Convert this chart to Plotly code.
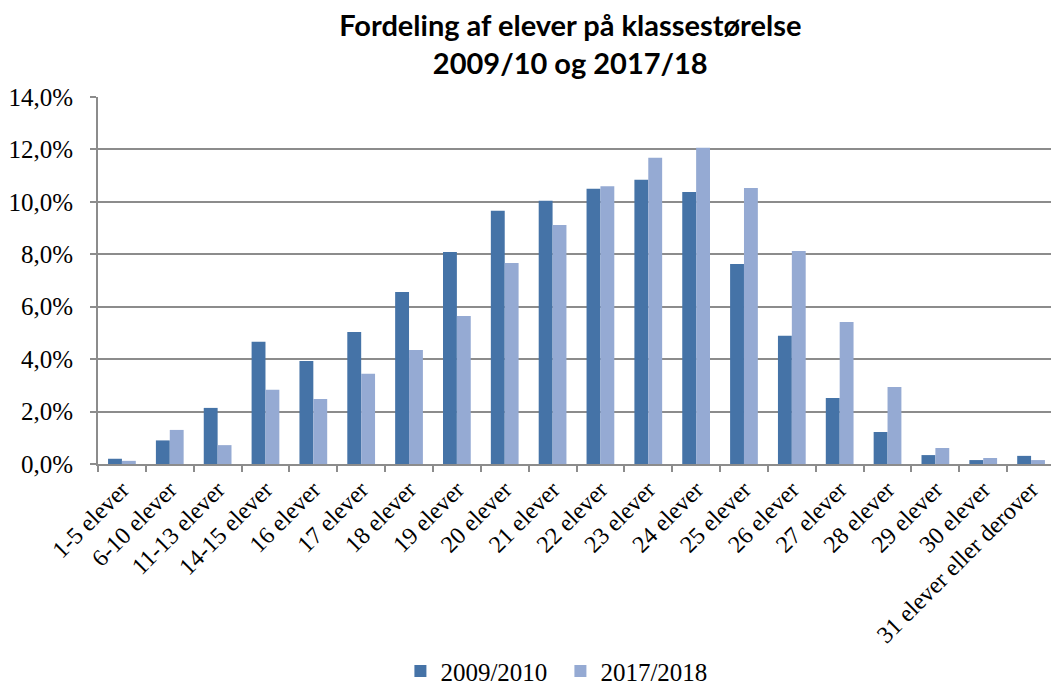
import plotly.graph_objects as go

categories = ["1-5 elever", "6-10 elever", "11-13 elever", "14-15 elever", "16 elever",
              "17 elever", "18 elever", "19 elever", "20 elever", "21 elever", "22 elever",
              "23 elever", "24 elever", "25 elever", "26 elever", "27 elever", "28 elever",
              "29 elever", "30 elever", "31 elever eller derover"]
v2009 = [0.20, 0.90, 2.14, 4.66, 3.93, 5.04, 6.56, 8.09, 9.66, 10.04, 10.50,
         10.84, 10.38, 7.63, 4.89, 2.52, 1.22, 0.34, 0.15, 0.31]
v2017 = [0.12, 1.30, 0.72, 2.83, 2.48, 3.44, 4.35, 5.65, 7.67, 9.12, 10.60,
         11.68, 12.06, 10.53, 8.13, 5.42, 2.94, 0.61, 0.23, 0.15]
series_names = ["2009/2010", "2017/2018"]
y_ticks = [0, 0.02, 0.04, 0.06, 0.08, 0.10, 0.12, 0.14]

serif = "Liberation Serif, Times New Roman, serif"

fig = go.Figure()
fig.add_trace(go.Bar(x=categories, y=[v / 100 for v in v2009], name=series_names[0],
                     marker=dict(color="#4573A7", line=dict(width=0))))
fig.add_trace(go.Bar(x=categories, y=[v / 100 for v in v2017], name=series_names[1],
                     marker=dict(color="#95AAD3", line=dict(width=0))))

fig.update_layout(
    width=1051, height=678,
    paper_bgcolor="white", plot_bgcolor="white",
    separators=", ",
    barmode="group", bargap=0.42, bargroupgap=0,
    margin=dict(l=90, r=4, t=89, b=222, autoexpand=False),
    title=dict(text="<b>Fordeling af elever på klassestørelse<br>2009/10 og 2017/18</b>",
               x=0.535, xanchor="center", y=0.958, yanchor="top",
               font=dict(family="Lato, Carlito, Calibri, sans-serif", size=29, color="black")),
    legend=dict(orientation="h", x=0.316, xanchor="left", y=-0.565, yanchor="middle",
                font=dict(family=serif, size=25, color="black"), traceorder="normal",
                itemwidth=30, entrywidth=115),
    font=dict(family=serif, color="black"),
)
fig.update_xaxes(
    tickangle=-45, tickfont=dict(family=serif, size=24, color="black"),
    showline=True, linecolor="#8C8C8C", linewidth=2,
    ticks="outside", tickson="boundaries", ticklen=6, tickcolor="#8C8C8C", tickwidth=2,
    showgrid=False, automargin=False,
)
fig.update_yaxes(
    range=[0, 0.14], tickvals=y_ticks, tickformat=".1%",
    tickfont=dict(family=serif, size=25, color="black"),
    showline=True, linecolor="#8C8C8C", linewidth=2,
    ticks="outside", ticklen=6, tickcolor="#8C8C8C", tickwidth=2,
    showgrid=True, gridcolor="#8C8C8C", gridwidth=2, zeroline=False,
    automargin=False, ticklabelstandoff=12,
)

fig.write_html("out.html")
